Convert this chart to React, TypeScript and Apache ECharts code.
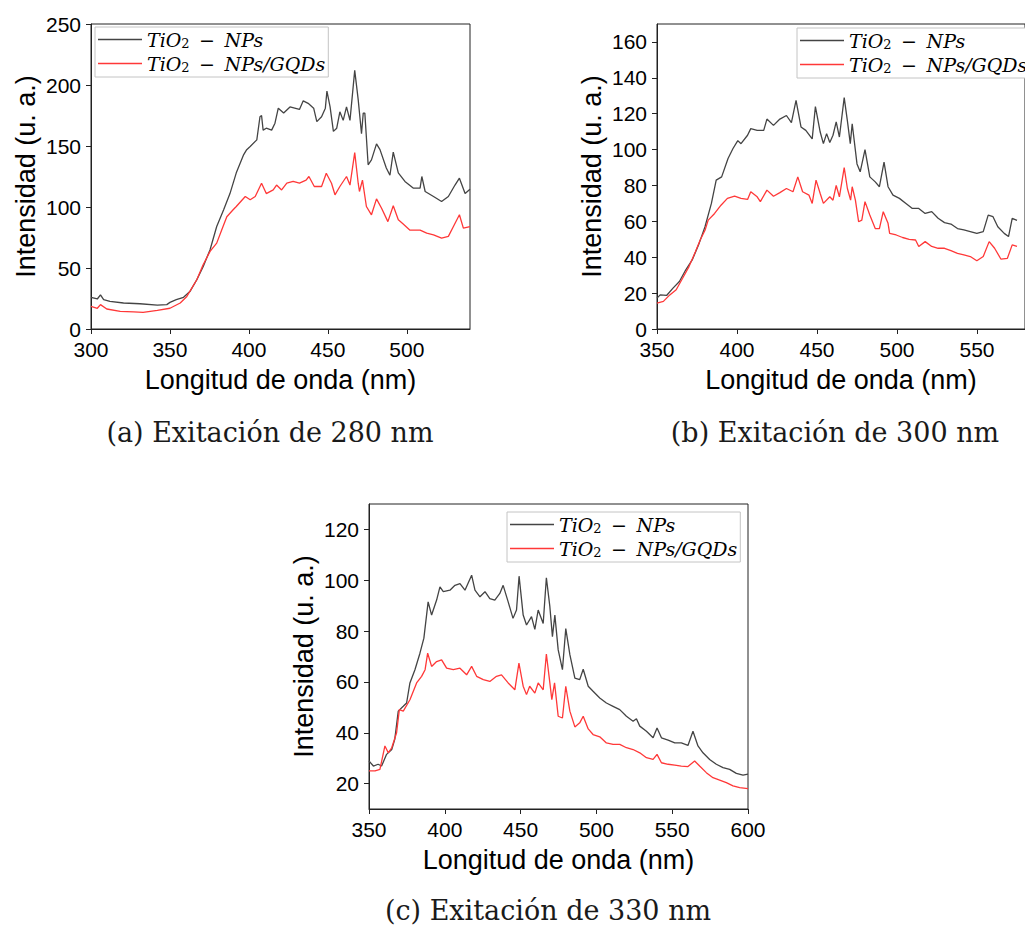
import React, { useEffect, useRef } from "react";
import * as echarts from "echarts";

const NAME_NP = "TiO2 − NPs";
const NAME_GQD = "TiO2 − NPs/GQDs";
const COLOR_NP = "#444444";
const COLOR_GQD = "#ff3838";

// (a) Excitation 280 nm
const aNP: [number, number][] = [[300,26],[304,24.6],[306,28],[308,24],[312,22.6],[320.6,21.3],[331,20.7],[342,19.6],[348,20],[350,21.8],[354,24],[358.6,26],[362.8,31],[367,40.4],[371,51],[375.4,65],[379.6,84],[384,97.7],[388,111],[392,128],[396.7,143],[398.6,147],[400.8,149.6],[405,155],[407,174],[408,175],[409,163],[411,164.6],[414.4,163],[416.5,168.7],[418.6,181],[422,177],[426,182],[432,180],[434.4,187],[437.5,185],[441,181],[443,170],[446,174],[448.4,181],[449.4,195],[451.4,182],[453.5,162],[455.6,164.6],[457.6,178],[459.7,171],[461.8,182],[464,171],[467,212],[469.2,188],[471.3,160],[472.4,177],[473.4,177],[475.5,134.6],[477.6,138.6],[480.8,151.7],[483,147],[487,132],[489.3,126],[491.4,145],[494.6,128],[498.8,121],[504,115.5],[508.4,115.5],[509.5,125],[511.6,112.7],[516.9,108.6],[522,104.5],[526.3,108.6],[530.5,118],[533.3,123.6],[536.9,111],[540,114.6]];
const aGQD: [number, number][] = [[300,18.6],[304,17],[306,20],[310,16.4],[318.5,14.5],[327,14],[333,13.6],[342,15.3],[350,17],[356.5,21.3],[360.7,26.7],[367,40.4],[371,52.7],[375.4,63.6],[379.6,70.4],[382.7,81],[386,92],[390,97.7],[392,100.4],[397.7,108.6],[400.8,106],[404,108.6],[408,119.5],[411,111],[415.4,114],[417.5,118],[420.7,114],[424,119.5],[428,121],[432,119.5],[436.2,122],[438,125],[441.4,116.8],[446,116.8],[449,127.7],[452.3,119.5],[454.5,110],[457.6,116.8],[461.8,125],[464,118],[467,144.6],[469.2,119.5],[470,112.7],[471.9,122],[474.4,100.4],[477.6,93.6],[480.8,106.7],[484,99],[488,88],[491.4,101],[494.6,89.5],[497.7,86],[502,81],[508.4,81],[512.6,78.6],[516.9,77.2],[522,74.5],[526.3,75.9],[529.5,84],[533.3,93.6],[535.8,82.7],[540,84]];

// (b) Excitation 300 nm
const bNP: [number, number][] = [[350,17.2],[352,19],[356,18.7],[360,22.8],[364,26.5],[368,33],[372,38.5],[376,46.9],[380,57],[384,70],[387,83],[390.4,84.8],[394.4,95],[397.5,100.6],[400.5,105],[402.5,103.3],[406.6,108],[408.6,111.7],[412.6,110.7],[416.7,110.7],[418.7,117],[422.8,113.5],[426.8,117],[430.9,119],[434,115],[436.9,127.4],[440,112.6],[443,110.7],[447,106],[449,124],[452,109.8],[454,103.3],[456,108.9],[458,104],[460,108],[462,115.4],[464,107],[467,129],[469,116],[470.8,103.3],[472,114.4],[475,92],[477,87.6],[480,100],[483,84.8],[486.4,82],[489,79.3],[491.9,93],[494.4,79.3],[497.5,74.6],[501.5,72.8],[505.6,70],[509.6,67.2],[513.6,67.2],[517.6,64.4],[521.7,65.4],[525.7,61.7],[529.7,59.3],[533.7,58.5],[537.8,56],[541.8,55.2],[545.8,54.3],[549.9,53.3],[553.9,54.3],[557,63.5],[560,62.6],[563,57],[567,53.3],[569.7,51.5],[572,61.7],[575,60.5]];
const bGQD: [number, number][] = [[350,14.4],[354,15.4],[358,19],[362,21.9],[366,28.3],[370,34.8],[374,43],[377,49.6],[380,55],[382,60.7],[386,64.4],[390,69],[394,72.8],[398.5,74],[402.5,72.8],[406.6,72.2],[408.6,76.5],[412.6,73.7],[414.6,71],[418.7,77.4],[422.8,74],[426.8,76],[430.9,78.3],[435,76.5],[438,84.8],[441,76.5],[445,74.6],[447,70],[449.4,83],[452,75.5],[454,70],[458,73.7],[460,71.8],[462,80],[464,73.7],[467,90],[469,78.3],[471,71.8],[472,79.3],[474,71.8],[476,59.8],[478,60.7],[480,71],[483,63.5],[486.4,56],[489,56],[491.4,65.4],[494.4,58.9],[495.4,53.3],[499.5,52.4],[503.5,51],[507.6,50],[511.6,49.6],[513.6,46],[517.6,48.7],[521.7,46],[525.7,45],[529.7,45],[533.7,43.7],[537.8,42.2],[541.8,41.3],[545.8,40.4],[549.9,38],[553.9,40.4],[557.6,48.7],[561,45],[565,38.9],[569,39.4],[572,46.9],[575,46]];

// (c) Excitation 330 nm
const cNP: [number, number][] = [[350,28.9],[352.9,26.9],[356,27.6],[358.3,26.9],[361.6,31.5],[365,33.4],[367,37.4],[369.3,48.5],[372.6,50.4],[374.8,51.7],[377,59.6],[380.3,64.8],[383.6,71.3],[386.2,77.2],[389,91.5],[391.3,86.3],[394.6,92.2],[396.8,97.4],[399,95.5],[403.4,96.1],[406.7,98],[410,98.7],[413.3,96.1],[417.7,102],[419.9,96.1],[423.2,93.5],[426.5,95.5],[429.7,92.8],[433,92.2],[436.3,94.8],[438.5,98],[441.8,91.5],[445,85],[447.3,88.3],[449,101.6],[451.7,86.3],[453.9,82.4],[457.2,85.7],[459.4,80.7],[461.6,88.3],[464.9,83],[467,101],[469.3,89.6],[471,77.8],[472.6,86.3],[474.8,72.6],[477.6,64.8],[479.8,81],[482.5,70.7],[485.8,61.5],[489,60.9],[491.3,65],[494.6,58.3],[497.8,56.3],[502.2,53.7],[506.6,51.7],[511,50.4],[515.4,49.1],[519.8,46.5],[524.2,44.5],[526.4,45.5],[528.6,42.6],[533,40.6],[537.4,38],[540,41.9],[542.9,38],[547.3,37.1],[551.7,36],[556,36],[560.4,35],[563.7,40.6],[567,34.8],[570.3,32.1],[574.7,29.5],[579.1,27.6],[583.5,26.3],[587.9,25.6],[592.3,24],[596.7,23.3],[600,23.7]];
const cGQD: [number, number][] = [[350,25],[354,25],[357.2,25.6],[360.5,34.8],[362.7,32.1],[365,34.1],[368.2,40],[370,49.1],[372.6,48.5],[377,53],[381.4,59.6],[384.7,62.2],[387,64.8],[388.7,71.3],[391.3,66.1],[394.6,68],[397.9,68.7],[401.2,65.4],[405.6,64.8],[410,65.4],[414.4,62.8],[417.7,66.1],[421,62.2],[425.4,60.9],[429.7,60.2],[434.1,62.2],[437.4,62.8],[441.8,59.6],[446.2,56.9],[448.9,67.4],[451.7,58.3],[453.9,55],[456,58.3],[459.4,55.6],[461.6,59.6],[464.9,56.9],[467,71],[469.3,59.6],[470.6,53],[472.4,59.6],[474.8,46.5],[477.6,45.8],[479.8,58.3],[482.5,48.5],[485.8,42.3],[489,43.9],[491.3,46.5],[494.6,41.5],[497.8,39.3],[502.2,38.4],[506.6,36],[511,35.4],[515.4,35.4],[519.8,34.1],[524.2,33.4],[528.6,32.1],[533,30.2],[537.4,29.5],[540,31.5],[542.9,28.2],[547.3,27.6],[551.7,27.3],[556,26.9],[560.4,26.7],[564.8,28.9],[568.1,26.9],[572.5,24.3],[576.9,22.3],[581.3,21.4],[585.7,20.4],[590.1,19.1],[594.5,18.4],[600,18]];

const aXTicks = [300, 350, 400, 450, 500];
const aYTicks = [0, 50, 100, 150, 200, 250];
const bXTicks = [350, 400, 450, 500, 550];
const bYTicks = [0, 20, 40, 60, 80, 100, 120, 140, 160];
const cXTicks = [350, 400, 450, 500, 550, 600];
const cYTicks = [20, 40, 60, 80, 100, 120];

const captions = ["(a) Exitación de 280 nm", "(b) Exitación de 300 nm", "(c) Exitación de 330 nm"];

const AXIS_COLOR = "#222";
const SANS = "'Liberation Sans', Arial, sans-serif";
const MATH = "'DejaVu Serif', serif";

function xAxis(gridIndex: number, min: number, max: number, ticks: number[]) {
  return {
    type: "value", gridIndex, min, max,
    name: "Longitud de onda (nm)", nameLocation: "middle", nameGap: 37,
    nameTextStyle: { fontFamily: SANS, fontSize: 27, color: "#000" },
    axisLine: { show: true, lineStyle: { color: AXIS_COLOR, width: 1 } },
    axisTick: { show: true, length: 5, inside: false, customValues: ticks, lineStyle: { color: AXIS_COLOR } },
    axisLabel: { customValues: ticks, fontFamily: SANS, fontSize: 21, color: "#000", margin: 10 },
    splitLine: { show: false },
  };
}
function yAxis(gridIndex: number, min: number, max: number, ticks: number[]) {
  return {
    type: "value", gridIndex, min, max,
    name: "Intensidad (u. a.)", nameLocation: "middle", nameGap: 52,
    nameTextStyle: { fontFamily: SANS, fontSize: 27, color: "#000" },
    axisLine: { show: true, lineStyle: { color: AXIS_COLOR, width: 1 } },
    axisTick: { show: true, length: 5, inside: false, customValues: ticks, lineStyle: { color: AXIS_COLOR } },
    axisLabel: { customValues: ticks, fontFamily: SANS, fontSize: 21, color: "#000", margin: 10 },
    splitLine: { show: false },
  };
}

const legendRich = {
  i: { fontFamily: MATH, fontStyle: "italic", fontSize: 19, lineHeight: 21, color: "#000" },
  m: { fontFamily: MATH, fontSize: 19, lineHeight: 21, color: "#000" },
  s: { fontFamily: MATH, fontSize: 13, lineHeight: 9, verticalAlign: "bottom", color: "#000" },
};
function legendFormatter(name: string) {
  return name === NAME_NP
    ? "{i|TiO}{s|2}{m|\u2002−\u2002}{i|NPs}"
    : "{i|TiO}{s|2}{m|\u2002−\u2002}{i|NPs/GQDs}";
}
function legend(left: number, top: number) {
  return {
    left, top, orient: "vertical", selectedMode: false,
    icon: "rect", itemWidth: 44, itemHeight: 1.4, itemGap: 4, itemTextGap: 6,
    padding: [3, 3, 3, 3], borderColor: "#c4c4c4", borderWidth: 1, backgroundColor: "#fff",
    data: [NAME_NP, NAME_GQD],
    formatter: legendFormatter,
    textStyle: { rich: legendRich },
  };
}
function line(name: string, data: [number, number][], idx: number, color: string) {
  return {
    type: "line", name, data, xAxisIndex: idx, yAxisIndex: idx,
    symbol: "none", showSymbol: false, color,
    lineStyle: { color, width: 1.3 }, z: name === NAME_NP ? 2 : 3,
  };
}
function caption(text: string, x: number, y: number) {
  return {
    type: "text", x, y,
    style: { text, align: "center", verticalAlign: "middle", font: "27px 'DejaVu Serif', serif", fill: "#1a1a1a" },
  };
}

export default function App() {
  const ref = useRef<HTMLDivElement>(null);
  useEffect(() => {
    if (!ref.current) return;
    const chart = echarts.init(ref.current, undefined, { renderer: "svg" });
    chart.setOption({
      animation: false,
      backgroundColor: "#fff",
      grid: [
        { left: 91, top: 24, width: 379, height: 305, show: true, borderColor: AXIS_COLOR, borderWidth: 1, backgroundColor: "transparent" },
        { left: 657, top: 24, width: 379, height: 305, show: true, borderColor: AXIS_COLOR, borderWidth: 1, backgroundColor: "transparent" },
        { left: 369, top: 504, width: 379, height: 305, show: true, borderColor: AXIS_COLOR, borderWidth: 1, backgroundColor: "transparent" },
      ],
      xAxis: [xAxis(0, 300, 540, aXTicks), xAxis(1, 350, 580, bXTicks), xAxis(2, 350, 600, cXTicks)],
      yAxis: [yAxis(0, 0, 250, aYTicks), yAxis(1, 0, 170, bYTicks), yAxis(2, 10, 130, cYTicks)],
      legend: [legend(95, 27), legend(797, 28), legend(507, 512)],
      series: [
        line(NAME_NP, aNP, 0, COLOR_NP), line(NAME_GQD, aGQD, 0, COLOR_GQD),
        line(NAME_NP, bNP, 1, COLOR_NP), line(NAME_GQD, bGQD, 1, COLOR_GQD),
        line(NAME_NP, cNP, 2, COLOR_NP), line(NAME_GQD, cGQD, 2, COLOR_GQD),
      ],
      graphic: [
        caption(captions[0], 270, 432),
        caption(captions[1], 835, 432),
        caption(captions[2], 548, 910),
      ],
    });
    return () => chart.dispose();
  }, []);
  return <div ref={ref} style={{ position: "absolute", left: 0, top: 0, width: 1025, height: 926 }} />;
}
